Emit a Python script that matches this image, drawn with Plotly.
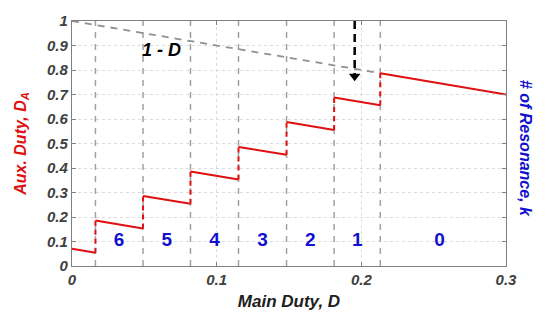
import plotly.graph_objects as go

# Data
boundaries = [0.0162, 0.0491, 0.0819, 0.1151, 0.1483, 0.1812, 0.2131]
seg_x0 = [0.0, 0.0162, 0.0491, 0.0819, 0.1151, 0.1483, 0.1812, 0.2131]
seg_x1 = [0.0162, 0.0491, 0.0819, 0.1151, 0.1483, 0.1812, 0.2131, 0.3]
seg_y0 = [0.070, 0.186, 0.286, 0.386, 0.486, 0.588, 0.688, 0.787]
seg_y1 = [0.054, 0.153, 0.254, 0.353, 0.454, 0.555, 0.656, 0.700]
k_labels = ["6", "5", "4", "3", "2", "1", "0"]
k_x = [0.0325, 0.0655, 0.0985, 0.1317, 0.1648, 0.1972, 0.2540]
k_y = 0.10
one_minus_d_x = [0.0, 0.2131]
one_minus_d_y = [1.0, 0.787]
arrow_x = 0.1954
arrow_y = [1.0, 0.775]
x_ticks = [0, 0.1, 0.2, 0.3]
x_tick_labels = ["0", "0.1", "0.2", "0.3"]
y_ticks = [0, 0.1, 0.2, 0.3, 0.4, 0.5, 0.6, 0.7, 0.8, 0.9, 1.0]
y_tick_labels = ["0", "0.1", "0.2", "0.3", "0.4", "0.5", "0.6", "0.7", "0.8", "0.9", "1"]

red = "#e01010"
blue = "#1010d0"
gray = "#a0a0a0"

fig = go.Figure()

# vertical gray dashed boundary lines
vx, vy = [], []
for b in boundaries:
    vx += [b, b, None]
    vy += [0, 1, None]
fig.add_trace(go.Scatter(x=vx, y=vy, mode="lines",
                         line=dict(color=gray, width=1.5, dash="6px,6px"),
                         hoverinfo="skip", showlegend=False))

# 1 - D line
fig.add_trace(go.Scatter(x=one_minus_d_x, y=one_minus_d_y, mode="lines",
                         line=dict(color="#909090", width=1.8, dash="7px,6px"),
                         showlegend=False))

# red solid segments
sx, sy = [], []
for a, b, c, d in zip(seg_x0, seg_x1, seg_y0, seg_y1):
    sx += [a, b, None]
    sy += [c, d, None]
fig.add_trace(go.Scatter(x=sx, y=sy, mode="lines",
                         line=dict(color=red, width=2), showlegend=False))

# red dashed jumps
jx, jy = [], []
for i in range(len(boundaries)):
    jx += [boundaries[i], boundaries[i], None]
    jy += [seg_y1[i], seg_y0[i + 1], None]
fig.add_trace(go.Scatter(x=jx, y=jy, mode="lines",
                         line=dict(color=red, width=2, dash="5px,4px"), showlegend=False))

# black dashed arrow
fig.add_trace(go.Scatter(x=[arrow_x, arrow_x], y=arrow_y, mode="lines",
                         line=dict(color="black", width=2.5, dash="8px,5px"), showlegend=False))
fig.add_trace(go.Scatter(x=[arrow_x], y=[arrow_y[1]], mode="markers",
                         marker=dict(symbol="triangle-down", size=10, color="black"),
                         showlegend=False))

# k labels
fig.add_trace(go.Scatter(x=k_x, y=[k_y] * len(k_x), mode="text",
                         text=["<b>" + t + "</b>" for t in k_labels],
                         textfont=dict(color=blue, size=19, family="Liberation Sans"),
                         showlegend=False))

fig.add_annotation(x=0.062, y=0.88, text="<b><i>1 - D</i></b>", showarrow=False,
                   font=dict(size=18, color="black", family="Liberation Sans"))

fig.add_annotation(xref="paper", yref="paper", x=1.045, y=0.48,
                   text="<b><i># of Resonance, k</i></b>", textangle=90, showarrow=False,
                   xanchor="center", yanchor="middle",
                   font=dict(size=16, color=blue, family="Liberation Sans"))

axis_common = dict(showline=True, linecolor="#808080", linewidth=1.2, mirror="ticks",
                   ticks="inside", ticklen=4, tickcolor="#808080",
                   showgrid=True, gridcolor="#dcdcdc", griddash="dot", gridwidth=1,
                   zeroline=False,
                   tickfont=dict(size=15, color="#404040", family="Liberation Sans"))

fig.update_layout(
    width=549, height=320,
    margin=dict(l=72, r=43, t=12, b=51),
    plot_bgcolor="white", paper_bgcolor="white",
    font=dict(family="Liberation Sans"),
    xaxis=dict(range=[0, 0.3], tickvals=x_ticks,
               ticktext=["<b><i>" + t + "</i></b>" for t in x_tick_labels],
               title=dict(text="<b><i>Main Duty, D</i></b>", standoff=8,
                          font=dict(size=17, color="#202020")),
               **axis_common),
    yaxis=dict(range=[0, 1], tickvals=y_ticks,
               ticktext=["<b><i>" + t + "</i></b>" for t in y_tick_labels],
               title=dict(text="<b><i>Aux. Duty, D<sub>A</sub></i></b>", standoff=16,
                          font=dict(size=16, color=red)),
               **axis_common),
)

fig.write_html("out.html")
